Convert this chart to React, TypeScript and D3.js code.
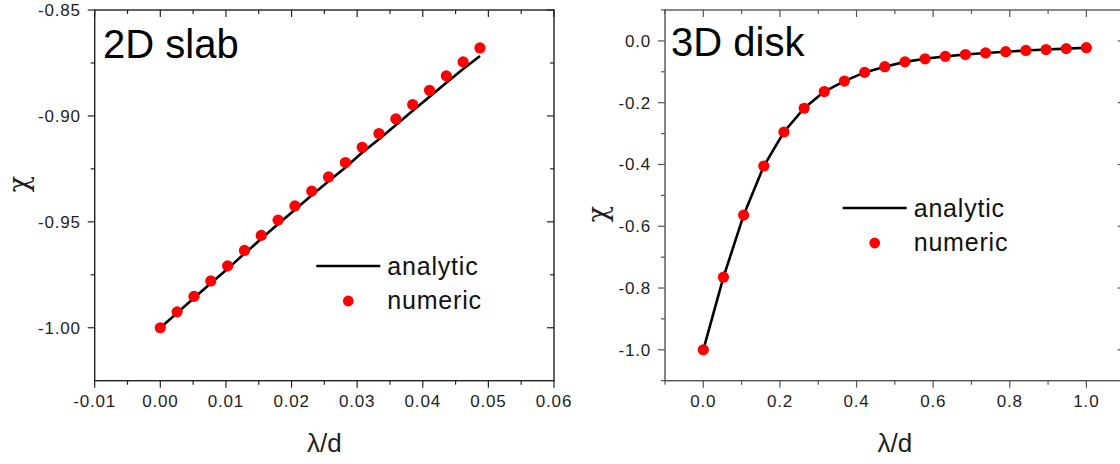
import React from "react";
import * as d3 from "d3";

// ---- Data ----
const slabX = [0, 0.00256, 0.00513, 0.00769, 0.01026, 0.01282, 0.01538, 0.01795, 0.02051, 0.02308, 0.02564, 0.02821, 0.03077, 0.03333, 0.0359, 0.03846, 0.04103, 0.04359, 0.04615, 0.04872];
const slabNumeric = [-1.0, -0.9925, -0.9852, -0.9779, -0.9708, -0.9635, -0.9564, -0.9492, -0.9425, -0.9355, -0.9288, -0.922, -0.9148, -0.9083, -0.9014, -0.8946, -0.8879, -0.8811, -0.8745, -0.8679];
const slabAnalytic = [-1.0, -0.993, -0.986, -0.979, -0.9722, -0.965, -0.958, -0.951, -0.9443, -0.9375, -0.9309, -0.9243, -0.9173, -0.911, -0.9043, -0.8976, -0.891, -0.8843, -0.8779, -0.8717];

const diskX = [0, 0.0526, 0.1053, 0.1579, 0.2105, 0.2632, 0.3158, 0.3684, 0.4211, 0.4737, 0.5263, 0.5789, 0.6316, 0.6842, 0.7368, 0.7895, 0.8421, 0.8947, 0.9474, 1.0];
const diskNumeric = [-1.0, -0.765, -0.564, -0.405, -0.295, -0.218, -0.164, -0.13, -0.102, -0.0835, -0.068, -0.058, -0.05, -0.044, -0.039, -0.035, -0.031, -0.028, -0.025, -0.022];
const diskAnalytic = [-1.0, -0.765, -0.564, -0.405, -0.295, -0.218, -0.164, -0.13, -0.102, -0.0835, -0.068, -0.058, -0.05, -0.044, -0.039, -0.035, -0.031, -0.028, -0.025, -0.022];

const slabXTicks = [-0.01, 0.0, 0.01, 0.02, 0.03, 0.04, 0.05, 0.06];
const slabXMinor = [-0.005, 0.005, 0.015, 0.025, 0.035, 0.045, 0.055];
const slabYTicks = [-1.0, -0.95, -0.9, -0.85];
const slabYMinor = [-0.975, -0.925, -0.875];

const diskXTicks = [0.0, 0.2, 0.4, 0.6, 0.8, 1.0];
const diskXMinor = [-0.1, 0.1, 0.3, 0.5, 0.7, 0.9, 1.1];
const diskYTicks = [-1.0, -0.8, -0.6, -0.4, -0.2, 0.0];
const diskYMinor = [-1.1, -0.9, -0.7, -0.5, -0.3, -0.1, 0.1];

const legendLabels = ["analytic", "numeric"];

const FONT = "'Liberation Sans', Arial, sans-serif";

const fmt = (digits: number) => (v: number) => {
  const s = Math.abs(v).toFixed(digits);
  return (v < 0 && Number(s) !== 0 ? "-" : "") + s;
};

type PanelProps = {
  x0: number; x1: number; y0: number; y1: number;
  xDomain: [number, number]; yDomain: [number, number];
  xTicks: number[]; xMinor: number[]; yTicks: number[]; yMinor: number[];
  xFmt: (v: number) => string; yFmt: (v: number) => string;
  xs: number[]; analytic: number[]; numeric: number[];
  title: string; titleX: number; titleY: number;
  chiX: number; chiY: number;
  legX: number; legY: number;
  axisColor: string;
};

function Panel(p: PanelProps) {
  const x = d3.scaleLinear().domain(p.xDomain).range([p.x0, p.x1]);
  const y = d3.scaleLinear().domain(p.yDomain).range([p.y1, p.y0]);
  const line = d3.line<number>().x((_, i) => x(p.xs[i])).y((d) => y(d));
  const MAJ = 7, MIN = 4;
  const ac = p.axisColor;
  const lblColor = "#1e1e1e";
  return (
    <g>
      <rect x={p.x0} y={p.y0} width={p.x1 - p.x0} height={p.y1 - p.y0} fill="none" stroke={ac} strokeWidth={1.4} />
      {p.xTicks.map((t) => (
        <g key={"xt" + t}>
          <line x1={x(t)} x2={x(t)} y1={p.y1} y2={p.y1 + MAJ} stroke={ac} strokeWidth={1.2} />
          <line x1={x(t)} x2={x(t)} y1={p.y0} y2={p.y0 + MAJ} stroke={ac} strokeWidth={1.2} />
          <text x={x(t)} y={p.y1 + 26} textAnchor="middle" fontSize={17} letterSpacing={0.8} fill={lblColor} fontFamily={FONT}>{p.xFmt(t)}</text>
        </g>
      ))}
      {p.xMinor.map((t) => (
        <g key={"xm" + t}>
          <line x1={x(t)} x2={x(t)} y1={p.y1} y2={p.y1 + MIN} stroke={ac} strokeWidth={1.2} />
          <line x1={x(t)} x2={x(t)} y1={p.y0} y2={p.y0 + MIN} stroke={ac} strokeWidth={1.2} />
        </g>
      ))}
      {p.yTicks.map((t) => (
        <g key={"yt" + t}>
          <line x1={p.x0 - MAJ} x2={p.x0} y1={y(t)} y2={y(t)} stroke={ac} strokeWidth={1.2} />
          <line x1={p.x1 - MAJ} x2={p.x1} y1={y(t)} y2={y(t)} stroke={ac} strokeWidth={1.2} />
          <text x={p.x0 - 14} y={y(t) + 6} textAnchor="end" fontSize={17} letterSpacing={0.8} fill={lblColor} fontFamily={FONT}>{p.yFmt(t)}</text>
        </g>
      ))}
      {p.yMinor.map((t) => (
        <g key={"ym" + t}>
          <line x1={p.x0 - MIN} x2={p.x0} y1={y(t)} y2={y(t)} stroke={ac} strokeWidth={1.2} />
          <line x1={p.x1 - MIN} x2={p.x1} y1={y(t)} y2={y(t)} stroke={ac} strokeWidth={1.2} />
        </g>
      ))}
      <path d={line(p.analytic) || ""} fill="none" stroke="#000" strokeWidth={2.6} />
      {p.numeric.map((v, i) => (
        <circle key={"pt" + i} cx={x(p.xs[i])} cy={y(v)} r={5.6} fill="#ff0000" />
      ))}
      <text x={p.titleX} y={p.titleY} fontSize={40} fill="#000" fontFamily={FONT}>{p.title}</text>
      <text x={(p.x0 + p.x1) / 2} y={452} textAnchor="middle" fontSize={26} fill="#1e1e1e" fontFamily={FONT}>λ/d</text>
      <text transform={`translate(${p.chiX},${p.chiY}) rotate(-90)`} textAnchor="middle" fontSize={27} fill="#1e1e1e" fontFamily="'DejaVu Serif', serif">χ</text>
      <line x1={p.legX - 32} x2={p.legX + 32} y1={p.legY} y2={p.legY} stroke="#000" strokeWidth={2.6} />
      <text x={p.legX + 39} y={p.legY + 9} fontSize={25} letterSpacing={0.8} fill="#111" fontFamily={FONT}>{legendLabels[0]}</text>
      <circle cx={p.legX} cy={p.legY + 35} r={5.4} fill="#ff0000" />
      <text x={p.legX + 39} y={p.legY + 43} fontSize={25} letterSpacing={0.8} fill="#111" fontFamily={FONT}>{legendLabels[1]}</text>
    </g>
  );
}

export default function App() {
  return (
    <svg width={1120} height={464} style={{ position: "absolute", left: 0, top: 0, background: "#fff" }}>
      <rect x={0} y={0} width={1120} height={464} fill="#fff" />
      <Panel
        x0={94.7} x1={554} y0={10} y1={380.7}
        xDomain={[-0.01, 0.06]} yDomain={[-1.025, -0.85]}
        xTicks={slabXTicks} xMinor={slabXMinor} yTicks={slabYTicks} yMinor={slabYMinor}
        xFmt={fmt(2)} yFmt={fmt(2)}
        xs={slabX} analytic={slabAnalytic} numeric={slabNumeric}
        title="2D slab" titleX={103} titleY={58}
        chiX={28} chiY={184}
        legX={348.3} legY={266}
        axisColor="#222"
      />
      <Panel
        x0={665} x1={1124.7} y0={10} y1={380.7}
        xDomain={[-0.1, 1.1]} yDomain={[-1.1, 0.1]}
        xTicks={diskXTicks} xMinor={diskXMinor} yTicks={diskYTicks} yMinor={diskYMinor}
        xFmt={fmt(1)} yFmt={fmt(1)}
        xs={diskX} analytic={diskAnalytic} numeric={diskNumeric}
        title="3D disk" titleX={671} titleY={56}
        chiX={607} chiY={214}
        legX={874.7} legY={208}
        axisColor="#555"
      />
    </svg>
  );
}
